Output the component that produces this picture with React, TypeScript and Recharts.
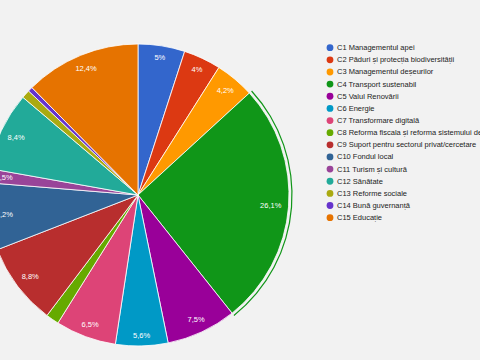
import React from 'react';
import { PieChart, Pie, Cell, Legend } from 'recharts';

const categories = [
  'C1 Managementul apei',
  'C2 Păduri și protecția biodiversității',
  'C3 Managementul deșeurilor',
  'C4 Transport sustenabil',
  'C5 Valul Renovării',
  'C6 Energie',
  'C7 Transformare digitală',
  'C8 Reforma fiscala și reforma sistemului de pensii',
  'C9 Suport pentru sectorul privat/cercetare',
  'C10 Fondul local',
  'C11 Turism și cultură',
  'C12 Sănătate',
  'C13 Reforme sociale',
  'C14 Bună guvernanță',
  'C15 Educație',
];

const values = [5, 4, 4.2, 26.1, 7.5, 5.6, 6.5, 1.4, 8.8, 7.2, 1.5, 8.4, 0.9, 0.5, 12.4];

const colors = [
  '#3366cc', '#dc3912', '#ff9900', '#109618', '#990099',
  '#0099c6', '#dd4477', '#66aa00', '#b82e2e', '#316395',
  '#994499', '#22aa99', '#aaaa11', '#6633cc', '#e67300',
];

const highlighted = 3;

const data = categories.map((name, i) => ({ name, value: values[i] }));

const FONT = "Arial, 'Liberation Sans', sans-serif";

const fmt = (v: number) => String(v).replace('.', ',') + '%';

const charW = (c: string) => {
  if (c === ',') return 0.278;
  if (c === '%') return 0.889;
  return 0.556;
};

const FS = 7.5;

const renderLabel = (props: any) => {
  const { cx, cy, midAngle, outerRadius, value } = props;
  if (value < 1.5) return null;
  const text = fmt(value);
  const w = text.split('').reduce((s, c) => s + charW(c), 0) * FS;
  const rad = (-midAngle * Math.PI) / 180;
  const ux = Math.cos(rad);
  const uy = Math.sin(rad);
  const ext = Math.abs(ux) * (w / 2) + Math.abs(uy) * 3.5;
  const r = outerRadius - 7 - ext;
  return (
    <text
      x={cx + r * ux}
      y={cy + r * uy}
      fill="#ffffff"
      fontSize={FS}
      fontFamily={FONT}
      textAnchor="middle"
      dominantBaseline="central"
    >
      {text}
    </text>
  );
};

const LegendContent = () => (
  <svg width={160} height={200} style={{ overflow: 'hidden', display: 'block' }}>
    {categories.map((name, i) => {
      const y = 12.7 + i * 12.14;
      return (
        <g key={name}>
          <circle cx={10} cy={y} r={3.4} fill={colors[i]} />
          <text x={17} y={y} fontSize={FS} fontFamily={FONT} fill="#222222" dominantBaseline="central">
            {name}
          </text>
        </g>
      );
    })}
  </svg>
);

export default function App() {
  return (
    <div
      style={{
        position: 'absolute',
        left: 0,
        top: 0,
        width: 480,
        height: 360,
        background: '#f2f2f2',
        overflow: 'hidden',
      }}
    >
      <PieChart width={480} height={360} margin={{ top: 0, right: 0, bottom: 0, left: 0 }}>
        <Pie
          data={data}
          dataKey="value"
          nameKey="name"
          cx={138}
          cy={195}
          outerRadius={151}
          startAngle={90}
          endAngle={-270}
          stroke="#ffffff"
          strokeWidth={0.8}
          label={renderLabel}
          labelLine={false}
          isAnimationActive={false}
        >
          {data.map((d, i) => (
            <Cell key={d.name} fill={colors[i]} />
          ))}
        </Pie>
        <Pie
          data={data}
          dataKey="value"
          nameKey="name"
          cx={138}
          cy={195}
          innerRadius={153.4}
          outerRadius={154.6}
          startAngle={90}
          endAngle={-270}
          stroke="none"
          legendType="none"
          label={false}
          labelLine={false}
          isAnimationActive={false}
        >
          {data.map((d, i) => (
            <Cell key={d.name} fill={i === highlighted ? colors[i] : 'transparent'} />
          ))}
        </Pie>
        <Legend
          content={<LegendContent />}
          wrapperStyle={{ position: 'absolute', left: 320, top: 35, width: 160, height: 200 }}
        />
      </PieChart>
    </div>
  );
}
